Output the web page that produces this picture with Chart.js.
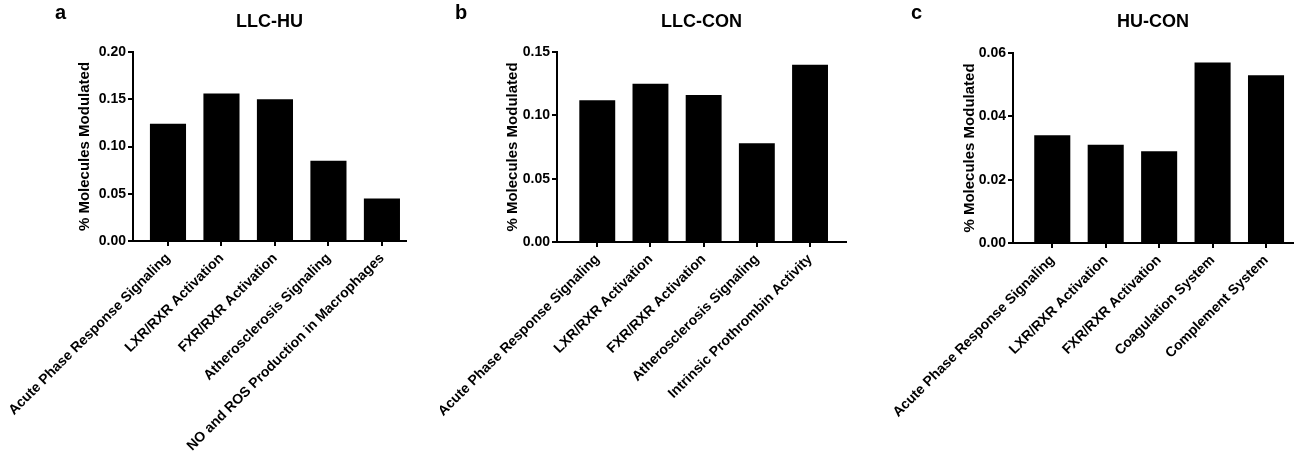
<!DOCTYPE html>
<html>
<head>
<meta charset="utf-8">
<script src="https://cdn.jsdelivr.net/npm/chart.js@4"></script>
<style>
  html, body { margin: 0; padding: 0; background: #fff; }
  #wrap { position: relative; width: 1304px; height: 456px; overflow: hidden; }
  .panel { position: absolute; top: 0; }
  .letter { position: absolute; font: bold 20px "Liberation Sans", Arial, sans-serif; color: #000; }
</style>
</head>
<body>
<div id="wrap">
  <canvas id="chartA" class="panel" width="440" height="456" style="left:0px"></canvas>
  <canvas id="chartB" class="panel" width="430" height="456" style="left:440px"></canvas>
  <canvas id="chartC" class="panel" width="434" height="456" style="left:870px"></canvas>
  <div class="letter" style="left:55px; top:1px">a</div>
  <div class="letter" style="left:455px; top:1px">b</div>
  <div class="letter" style="left:911px; top:1px">c</div>
</div>
<script>
// データ
const titleA = "LLC-HU";
const labelsA = ["Acute Phase Response Signaling", "LXR/RXR Activation", "FXR/RXR Activation",
                 "Atherosclerosis Signaling", "NO and ROS Production in Macrophages"];
const valuesA = [0.124, 0.156, 0.150, 0.085, 0.045];
const yTicksA = [0, 0.05, 0.10, 0.15, 0.20];

const titleB = "LLC-CON";
const labelsB = ["Acute Phase Response Signaling", "LXR/RXR Activation", "FXR/RXR Activation",
                 "Atherosclerosis Signaling", "Intrinsic Prothrombin Activity"];
const valuesB = [0.112, 0.125, 0.116, 0.078, 0.140];
const yTicksB = [0, 0.05, 0.10, 0.15];

const titleC = "HU-CON";
const labelsC = ["Acute Phase Response Signaling", "LXR/RXR Activation", "FXR/RXR Activation",
                 "Coagulation System", "Complement System"];
const valuesC = [0.034, 0.031, 0.029, 0.057, 0.053];
const yTicksC = [0, 0.02, 0.04, 0.06];

const yTitle = "% Molecules Modulated";

Chart.defaults.font.family = '"Liberation Sans", Arial, sans-serif';
Chart.defaults.color = "#000";

// 1パネル分のチャートを作る
function makePanel(canvasId, title, labels, values, yTicks, lay) {
  const ctx = document.getElementById(canvasId).getContext("2d");
  const step = yTicks[1] - yTicks[0];
  return new Chart(ctx, {
    type: "bar",
    data: {
      datasets: [{
        data: values.map((v, i) => ({ x: i, y: v })),
        backgroundColor: "#000",
        borderColor: "#000",
        borderWidth: 0,
        barPercentage: 0.675,
        categoryPercentage: 1
      }]
    },
    options: {
      responsive: false,
      animation: false,
      layout: { padding: { left: lay.padLeft, right: lay.padRight, top: 0, bottom: 0 } },
      plugins: {
        legend: { display: false },
        tooltip: { enabled: false },
        title: {
          display: true,
          text: title,
          fullSize: false,
          font: { size: 18, weight: "bold" },
          color: "#000",
          padding: { top: 11, bottom: lay.top - 32.6 }
        }
      },
      scales: {
        x: {
          type: "linear",
          min: lay.xMin,
          max: lay.xMax,
          offset: false,
          border: { display: true, color: "#000", width: 2 },
          grid: { display: true, offset: false, drawOnChartArea: false, drawTicks: true, tickLength: 5, color: "#000", lineWidth: 2 },
          ticks: {
            stepSize: 1,
            autoSkip: false,
            maxRotation: 45,
            minRotation: 45,
            padding: 4,
            font: { size: 14, weight: "bold" },
            color: "#000",
            callback: (v) => Number.isInteger(v) ? labels[v] : ""
          },
          afterBuildTicks: (scale) => {
            scale.ticks = labels.map((_, i) => ({ value: i }));
          },
          afterFit: (scale) => {
            // 回転ラベルによる左右の余白追加を抑える
            scale.height = 456 - lay.bottom;
            scale.paddingLeft = 0;
            scale.paddingRight = 0;
          }
        },
        y: {
          min: 0,
          max: yTicks[yTicks.length - 1],
          border: { display: true, color: "#000", width: 2 },
          grid: { display: true, drawOnChartArea: false, drawTicks: true, tickLength: 5, color: "#000", lineWidth: 2 },
          ticks: {
            stepSize: step,
            padding: 2,
            font: { size: 14, weight: "bold" },
            color: "#000",
            callback: (v) => Number(v).toFixed(2)
          },
          title: {
            display: true,
            text: yTitle,
            font: { size: 15, weight: "bold" },
            color: "#000",
            padding: { top: 0, bottom: 0 }
          },
          afterFit: (scale) => { scale.width = lay.axisX - lay.padLeft; }
        }
      }
    }
  });
}

makePanel("chartA", titleA, labelsA, valuesA, yTicksA,
  { padLeft: 76, padRight: 34, axisX: 133, top: 52, bottom: 241, xMin: -0.654, xMax: 4.45 });
makePanel("chartB", titleB, labelsB, valuesB, yTicksB,
  { padLeft: 64, padRight: 24, axisX: 117, top: 52, bottom: 242, xMin: -0.757, xMax: 4.676 });
makePanel("chartC", titleC, labelsC, valuesC, yTicksC,
  { padLeft: 91, padRight: 11, axisX: 143, top: 53, bottom: 243, xMin: -0.735, xMax: 4.505 });
</script>
</body>
</html>
